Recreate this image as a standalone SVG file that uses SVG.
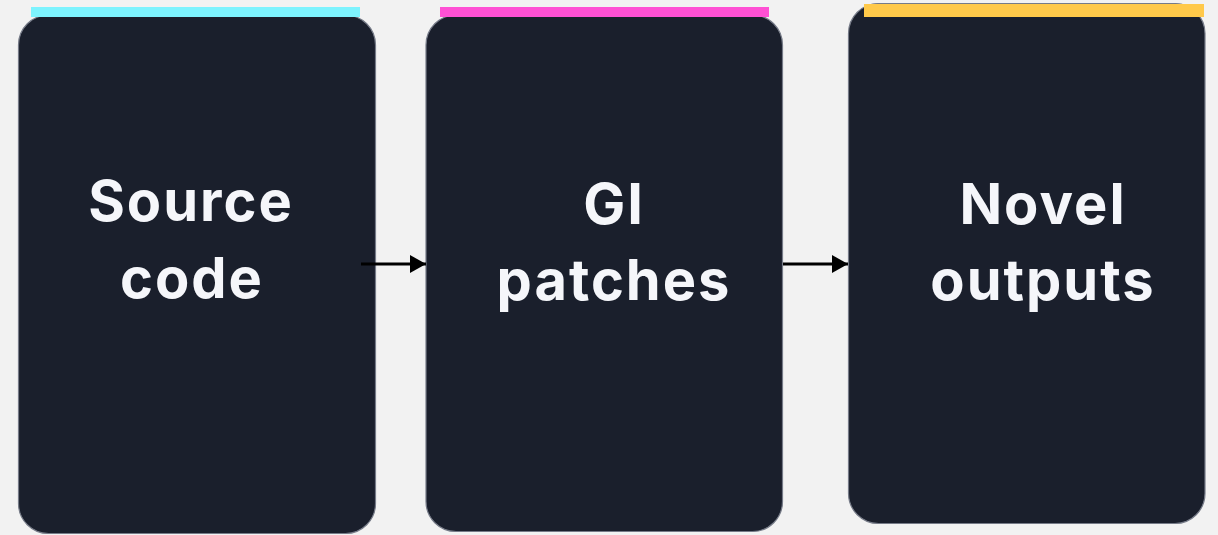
<svg xmlns="http://www.w3.org/2000/svg" width="1218" height="535" viewBox="0 0 1218 535">
<defs>
<style>
.box{fill:#1a1f2c;stroke:#767b88;stroke-width:1.2}
.lbl{font-family:Inter,"Liberation Sans",sans-serif;font-weight:700;font-size:56px;letter-spacing:2px;fill:#f5f6fa;text-anchor:middle}
.conn{stroke:#000;stroke-width:3;fill:none}
</style>
<marker id="ah" markerUnits="userSpaceOnUse" markerWidth="17" markerHeight="18" refX="16" refY="9" orient="auto">
<path d="M0,0 L16,9 L0,18 Z" fill="#000"/>
</marker>
</defs>
<rect width="1218" height="535" fill="#f2f2f2"/>
<g id="node-source">
<rect class="box" x="18.5" y="15" width="357" height="518.5" rx="30"/>
<rect x="31" y="7" width="329" height="10" fill="#7df3fe"/>
<text class="lbl" x="191" y="221">Source</text>
<text class="lbl" x="192" y="298">code</text>
</g>
<g id="node-gi">
<rect class="box" x="426" y="15" width="356.5" height="516.5" rx="30"/>
<rect x="440" y="7" width="329" height="10" fill="#ff50d4"/>
<text class="lbl" x="614" y="224">GI</text>
<text class="lbl" x="614" y="300">patches</text>
</g>
<g id="node-novel">
<rect class="box" x="848.5" y="3.5" width="356.5" height="520" rx="30"/>
<rect x="864" y="4" width="340" height="13" fill="#ffc94a"/>
<text class="lbl" x="1043" y="224">Novel</text>
<text class="lbl" x="1043" y="300">outputs</text>
</g>
<g id="connectors">
<line class="conn" x1="361" y1="264" x2="426" y2="264" marker-end="url(#ah)"/>
<line class="conn" x1="783" y1="264" x2="848" y2="264" marker-end="url(#ah)"/>
</g>
</svg>
